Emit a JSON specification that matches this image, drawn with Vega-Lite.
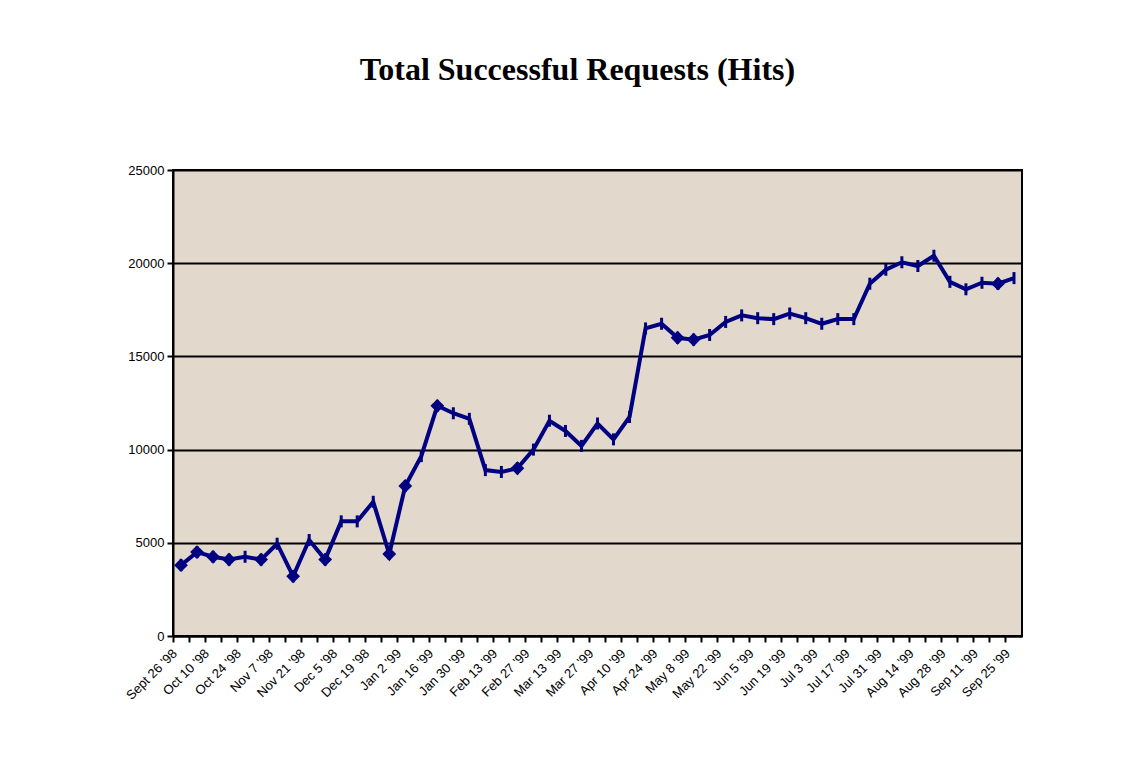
{
  "$schema": "https://vega.github.io/schema/vega-lite/v6.json",
  "autosize": "none",
  "width": 849,
  "height": 466,
  "padding": {"left": 173, "top": 170, "right": 100, "bottom": 125},
  "background": "white",
  "title": {
    "text": "Total Successful Requests (Hits)",
    "anchor": "middle",
    "dx": -20,
    "offset": 52,
    "baseline": "alphabetic",
    "font": "Liberation Serif",
    "fontSize": 32,
    "fontWeight": "bold",
    "color": "black"
  },
  "config": {
    "view": {"fill": "#e2d9cc", "stroke": "black", "strokeWidth": 2},
    "axis": {
      "labelFont": "Liberation Sans",
      "labelFontSize": 13,
      "labelColor": "black",
      "domainColor": "black",
      "domainWidth": 2,
      "tickColor": "black",
      "tickWidth": 2,
      "tickSize": 6,
      "title": null
    }
  },
  "data": {
    "values": [
      {"week": "Sept 26 '98", "hits": 3800},
      {"week": "Oct 3 '98", "hits": 4500},
      {"week": "Oct 10 '98", "hits": 4250},
      {"week": "Oct 17 '98", "hits": 4100},
      {"week": "Oct 24 '98", "hits": 4250},
      {"week": "Oct 31 '98", "hits": 4100},
      {"week": "Nov 7 '98", "hits": 4950},
      {"week": "Nov 14 '98", "hits": 3200},
      {"week": "Nov 21 '98", "hits": 5150},
      {"week": "Nov 28 '98", "hits": 4100},
      {"week": "Dec 5 '98", "hits": 6150},
      {"week": "Dec 12 '98", "hits": 6150},
      {"week": "Dec 19 '98", "hits": 7200},
      {"week": "Dec 26 '98", "hits": 4400},
      {"week": "Jan 2 '99", "hits": 8050},
      {"week": "Jan 9 '99", "hits": 9650},
      {"week": "Jan 16 '99", "hits": 12350},
      {"week": "Jan 23 '99", "hits": 11950},
      {"week": "Jan 30 '99", "hits": 11650},
      {"week": "Feb 6 '99", "hits": 8900},
      {"week": "Feb 13 '99", "hits": 8800},
      {"week": "Feb 20 '99", "hits": 9000},
      {"week": "Feb 27 '99", "hits": 10000},
      {"week": "Mar 6 '99", "hits": 11550},
      {"week": "Mar 13 '99", "hits": 11000},
      {"week": "Mar 20 '99", "hits": 10200},
      {"week": "Mar 27 '99", "hits": 11400},
      {"week": "Apr 3 '99", "hits": 10550},
      {"week": "Apr 10 '99", "hits": 11750},
      {"week": "Apr 17 '99", "hits": 16500},
      {"week": "Apr 24 '99", "hits": 16750},
      {"week": "May 1 '99", "hits": 16000},
      {"week": "May 8 '99", "hits": 15900},
      {"week": "May 15 '99", "hits": 16150},
      {"week": "May 22 '99", "hits": 16850},
      {"week": "May 29 '99", "hits": 17200},
      {"week": "Jun 5 '99", "hits": 17050},
      {"week": "Jun 12 '99", "hits": 17000},
      {"week": "Jun 19 '99", "hits": 17300},
      {"week": "Jun 26 '99", "hits": 17050},
      {"week": "Jul 3 '99", "hits": 16750},
      {"week": "Jul 10 '99", "hits": 17000},
      {"week": "Jul 17 '99", "hits": 17000},
      {"week": "Jul 24 '99", "hits": 18900},
      {"week": "Jul 31 '99", "hits": 19650},
      {"week": "Aug 7 '99", "hits": 20050},
      {"week": "Aug 14 '99", "hits": 19850},
      {"week": "Aug 21 '99", "hits": 20400},
      {"week": "Aug 28 '99", "hits": 19000},
      {"week": "Sep 4 '99", "hits": 18600},
      {"week": "Sep 11 '99", "hits": 18950},
      {"week": "Sep 18 '99", "hits": 18900},
      {"week": "Sep 25 '99", "hits": 19200}
    ]
  },
  "encoding": {
    "x": {
      "field": "week",
      "type": "ordinal",
      "sort": null,
      "scale": {"type": "band", "paddingInner": 0, "paddingOuter": 0},
      "axis": {
        "bandPosition": 0,
        "labelAngle": -45,
        "labelAlign": "right",
        "labelBaseline": "middle",
        "labelPadding": 9,
        "labelOffset": -6,
        "labelOverlap": false,
        "labelExpr": "round(datum.index * 52) % 2 == 0 ? datum.label : ''"
      }
    },
    "y": {
      "field": "hits",
      "type": "quantitative",
      "scale": {"domain": [0, 25000], "nice": false},
      "axis": {
        "values": [0, 5000, 10000, 15000, 20000, 25000],
        "format": "d",
        "grid": true,
        "gridColor": "black",
        "gridWidth": 2,
        "gridOpacity": 1,
        "labelPadding": 3
      }
    }
  },
  "layer": [
    {
      "mark": {"type": "line", "color": "#000080", "strokeWidth": 4, "strokeJoin": "miter"}
    },
    {
      "mark": {
        "type": "point",
        "shape": "M0,-1L0,1",
        "filled": false,
        "stroke": "#000080",
        "strokeWidth": 3,
        "size": 144,
        "opacity": 1
      }
    },
    {
      "transform": [
        {"filter": {"field": "week", "oneOf": ["Sept 26 '98", "Oct 3 '98", "Oct 10 '98", "Oct 17 '98", "Oct 31 '98", "Nov 14 '98", "Nov 28 '98", "Dec 26 '98", "Jan 2 '99", "Jan 16 '99", "Feb 20 '99", "May 1 '99", "May 8 '99", "Sep 18 '99"]}}
      ],
      "mark": {
        "type": "point",
        "shape": "diamond",
        "filled": true,
        "color": "#000080",
        "size": 190,
        "opacity": 1
      }
    }
  ]
}
